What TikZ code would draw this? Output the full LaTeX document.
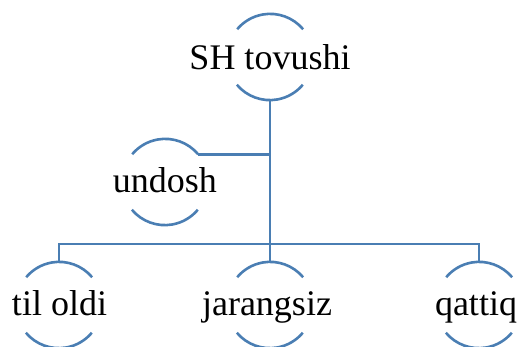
\documentclass[tikz,border=0pt]{standalone}
\usepackage{fontspec}
\setmainfont{Liberation Serif}
\definecolor{linkblue}{HTML}{4A7EB3}
\begin{document}
\begin{tikzpicture}[x=1pt,y=1pt,
  ring/.style={circle,minimum size=86pt,inner sep=0pt,draw=none},
  txt/.style={anchor=base,inner sep=0pt,font=\fontsize{36}{43}\selectfont},
  link/.style={draw=linkblue,line width=2.6pt}]
\useasboundingbox (0,0) rectangle (525,347);
% circle outlines (only the top and bottom arcs are shown)
\node[ring] (top) at (270,290) {};
\node[ring] (und) at (165,165) {};
\node[ring] (til) at (59,42) {};
\node[ring] (jar) at (270,42) {};
\node[ring] (qat) at (479,42) {};
\foreach \n in {top,und,til,jar,qat}{
  \draw[link] (\n.40) arc[start angle=40,end angle=140,radius=43pt];
  \draw[link] (\n.220) arc[start angle=220,end angle=320,radius=43pt];
}
% labels
\node[txt] (toptext) at (270,277) {SH tovushi};
\node[txt] (undtext) at (165,154) {undosh};
\node[txt] (tiltext) at (59.5,31) {til oldi};
\node[txt] (jartext) at (267,31) {jarangsiz};
\node[txt] (qattext) at (476,31) {qattiq};
% connectors
\coordinate (hub) at (270,103);
\draw[link] (top.south) -- (jar.north);
\draw[link] (til.north) |- (hub) -| (qat.north);
\draw[link] (und.40) -- (und.40 -| top.south);
\end{tikzpicture}
\end{document}
